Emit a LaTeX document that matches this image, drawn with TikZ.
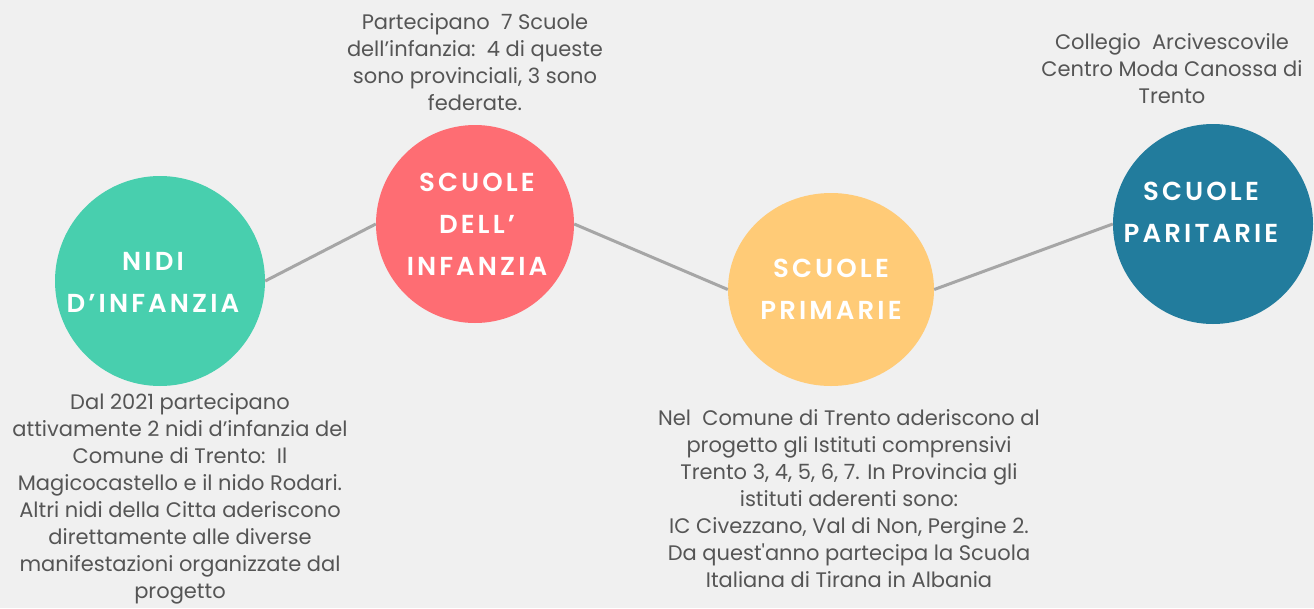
\documentclass[tikz,border=0pt]{standalone}
\usetikzlibrary{shapes.geometric}
\usepackage{fontspec}
\setmainfont{Poppins}
\newfontfamily\titlefont[LetterSpace=12]{Poppins SemiBold}
\definecolor{bg}{HTML}{F0F0F0}
\definecolor{cgreen}{HTML}{48CFAE}
\definecolor{cred}{HTML}{FE6D73}
\definecolor{cyellow}{HTML}{FFCB77}
\definecolor{cblue}{HTML}{227C9D}
\definecolor{linegray}{HTML}{A6A6A6}
\definecolor{txtgray}{HTML}{555555}
\tikzset{
  circ/.style={circle, draw=none, inner sep=0pt},
  conn/.style={draw=linegray, line width=3pt},
  title/.style={text=white, align=center, inner sep=0pt, anchor=base,
    font=\titlefont\fontsize{26}{42}\selectfont},
  body/.style={text=txtgray, align=center, inner sep=0pt, anchor=base,
    font=\fontsize{21}{26.9}\selectfont},
}
\begin{document}
\begin{tikzpicture}[x=1pt,y=-1pt]
\fill[bg] (0,0) rectangle (1314,608);
\useasboundingbox (0,0) rectangle (1314,608);
\node[circ, fill=cgreen, minimum size=210pt] (nidi) at (160,281) {};
\node[circ, fill=cred, minimum size=198pt] (infanzia) at (475,224) {};
\node[ellipse, draw=none, inner sep=0pt, fill=cyellow, minimum width=206pt, minimum height=193pt] (primarie) at (831,289.5) {};
\node[circ, fill=cblue, minimum size=200pt] (paritarie) at (1213,224) {};
\draw[conn] (nidi.east) -- (infanzia.west);
\draw[conn] (infanzia.east) -- (primarie.west);
\draw[conn] (primarie.east) -- (paritarie.west);
% anchor=base is the baseline of the last line
\node[title] (nidiT) at (153,312) {NIDI\\D’INFANZIA};
\node[title] (infanziaT) at (477,275) {SCUOLE\\DELL’\\INFANZIA};
\node[title] (primarieT) at (831,319) {SCUOLE\\PRIMARIE};
\node[title] (paritarieT) at (1201,242) {SCUOLE\\PARITARIE};
\node[body] (nidiB) at (180,598) {Dal 2021 partecipano\\attivamente 2 nidi d’infanzia del\\Comune di Trento:\ \ Il\\Magicocastello e il nido Rodari.\\Altri nidi della Citta aderiscono\\direttamente alle diverse\\manifestazioni organizzate dal\\progetto};
\node[body] (infanziaB) at (475,110) {Partecipano\ \ 7 Scuole\\dell’infanzia:\ \ 4 di queste\\sono provinciali, 3 sono\\federate.};
\node[body] (primarieB) at (849,587) {Nel\ \ Comune di Trento aderiscono al\\progetto gli Istituti comprensivi\\Trento 3, 4, 5, 6, 7. In Provincia gli\\istituti aderenti sono:\\IC Civezzano, Val di Non, Pergine 2.\\Da quest\textquotesingle anno partecipa la Scuola\\Italiana di Tirana in Albania};
\node[body] (paritarieB) at (1172,103) {Collegio\ \ Arcivescovile\\Centro Moda Canossa di\\Trento};
\end{tikzpicture}
\end{document}
